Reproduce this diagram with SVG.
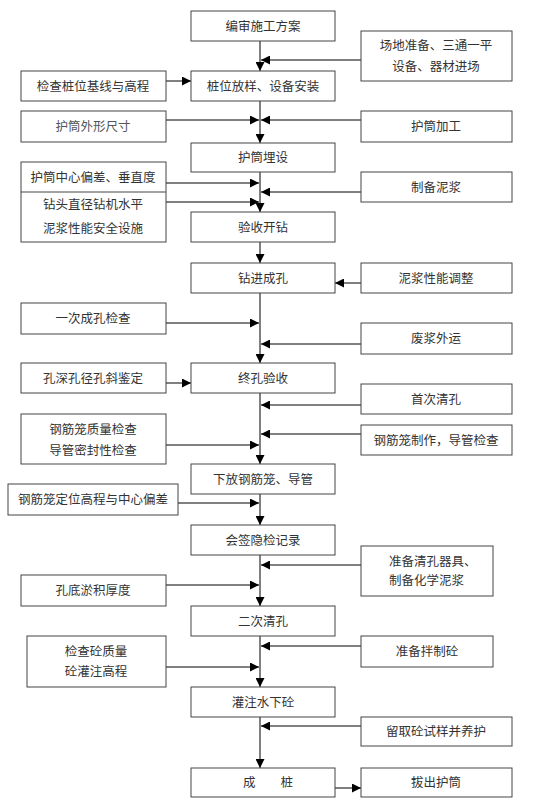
<svg xmlns="http://www.w3.org/2000/svg" width="555" height="809" viewBox="0 0 555 809">
<style>
.b{fill:#fff;stroke:#444;stroke-width:1}
.t{font-family:"Noto Sans CJK SC","Noto Sans",sans-serif;font-size:12.5px;fill:#333;text-anchor:middle}
.l{font-family:"Noto Sans CJK SC","Noto Sans",sans-serif;font-size:12.5px;fill:#333;text-anchor:start}
.c{fill:none;stroke:#000;stroke-width:1}
</style>
<defs>
<marker id="ah" markerWidth="9" markerHeight="9" refX="9" refY="4.5" orient="auto" markerUnits="userSpaceOnUse">
<path d="M0,0 L9,4.5 L0,9 z" fill="#000"/>
</marker>
</defs>
<rect width="555" height="809" fill="#fff"/>
<g id="connectors">
<path class="c" d="M260,41 V71" marker-end="url(#ah)"/>
<path class="c" d="M361,60 H261" marker-end="url(#ah)"/>
<path class="c" d="M166,81 H191" marker-end="url(#ah)"/>
<path class="c" d="M260,101 V143" marker-end="url(#ah)"/>
<path class="c" d="M166,120 H259" marker-end="url(#ah)"/>
<path class="c" d="M361,120 H261" marker-end="url(#ah)"/>
<path class="c" d="M260,172 V212" marker-end="url(#ah)"/>
<path class="c" d="M166,183 H259" marker-end="url(#ah)"/>
<path class="c" d="M361,192 H261" marker-end="url(#ah)"/>
<path class="c" d="M166,202 H259" marker-end="url(#ah)"/>
<path class="c" d="M260,242 V263" marker-end="url(#ah)"/>
<path class="c" d="M361,283 H335" marker-end="url(#ah)"/>
<path class="c" d="M260,293 V363" marker-end="url(#ah)"/>
<path class="c" d="M166,323 H259" marker-end="url(#ah)"/>
<path class="c" d="M361,344 H261" marker-end="url(#ah)"/>
<path class="c" d="M166,383 H191" marker-end="url(#ah)"/>
<path class="c" d="M260,393 V464" marker-end="url(#ah)"/>
<path class="c" d="M361,405 H261" marker-end="url(#ah)"/>
<path class="c" d="M361,434 H261" marker-end="url(#ah)"/>
<path class="c" d="M166,445 H259" marker-end="url(#ah)"/>
<path class="c" d="M260,494 V525" marker-end="url(#ah)"/>
<path class="c" d="M178,503 H259" marker-end="url(#ah)"/>
<path class="c" d="M260,555 V606" marker-end="url(#ah)"/>
<path class="c" d="M361,565 H261" marker-end="url(#ah)"/>
<path class="c" d="M166,585 H259" marker-end="url(#ah)"/>
<path class="c" d="M260,636 V687" marker-end="url(#ah)"/>
<path class="c" d="M361,646 H261" marker-end="url(#ah)"/>
<path class="c" d="M166,667 H259" marker-end="url(#ah)"/>
<path class="c" d="M260,717 V768" marker-end="url(#ah)"/>
<path class="c" d="M361,726 H261" marker-end="url(#ah)"/>
<path class="c" d="M335,788 H361" marker-end="url(#ah)"/>
</g>
<g id="n1"><rect class="b" x="191" y="11" width="144" height="30"/><text class="t" x="263" y="30.5">编审施工方案</text></g>
<g id="n2"><rect class="b" x="361" y="31" width="151" height="50"/><text class="t" x="436" y="49.5">场地准备、三通一平</text><text class="t" x="436" y="71">设备、器材进场</text></g>
<g id="n3"><rect class="b" x="21" y="71" width="145" height="30"/><text class="t" x="93" y="90.5">检查桩位基线与高程</text></g>
<g id="n4"><rect class="b" x="191" y="71" width="144" height="30"/><text class="t" x="263" y="90.5">桩位放样、设备安装</text></g>
<g id="n5"><rect class="b" x="21" y="111" width="145" height="31"/><text class="t" x="93" y="131" fill="#555" style="fill:#555">护筒外形尺寸</text></g>
<g id="n6"><rect class="b" x="361" y="111" width="151" height="31"/><text class="t" x="436" y="131">护筒加工</text></g>
<g id="n7"><rect class="b" x="191" y="143" width="144" height="29"/><text class="t" x="263" y="162">护筒埋设</text></g>
<g id="n8"><rect class="b" x="21" y="162" width="145" height="80"/><line x1="21" y1="192" x2="166" y2="192" stroke="#444" stroke-width="1"/><text class="t" x="93" y="182">护筒中心偏差、垂直度</text><text class="t" x="93" y="209">钻头直径钻机水平</text><text class="t" x="93" y="233">泥浆性能安全设施</text></g>
<g id="n9"><rect class="b" x="361" y="172" width="151" height="30"/><text class="t" x="436" y="191.5">制备泥浆</text></g>
<g id="n10"><rect class="b" x="191" y="212" width="144" height="30"/><text class="t" x="263" y="231.5">验收开钻</text></g>
<g id="n11"><rect class="b" x="191" y="263" width="144" height="30"/><text class="t" x="263" y="282.5">钻进成孔</text></g>
<g id="n12"><rect class="b" x="361" y="263" width="151" height="30"/><text class="t" x="436" y="282.5">泥浆性能调整</text></g>
<g id="n13"><rect class="b" x="21" y="303" width="145" height="31"/><text class="t" x="93" y="323">一次成孔检查</text></g>
<g id="n14"><rect class="b" x="361" y="323" width="151" height="31"/><text class="t" x="436" y="343">废浆外运</text></g>
<g id="n15"><rect class="b" x="21" y="363" width="145" height="30"/><text class="t" x="93" y="382.5">孔深孔径孔斜鉴定</text></g>
<g id="n16"><rect class="b" x="191" y="363" width="144" height="30"/><text class="t" x="263" y="382.5">终孔验收</text></g>
<g id="n17"><rect class="b" x="361" y="384" width="151" height="30"/><text class="t" x="436" y="403.5">首次清孔</text></g>
<g id="n18"><rect class="b" x="21" y="414" width="145" height="50"/><text class="t" x="93" y="434">钢筋笼质量检查</text><text class="t" x="93" y="455">导管密封性检查</text></g>
<g id="n19"><rect class="b" x="361" y="425" width="151" height="30"/><text class="t" x="436" y="444.5">钢筋笼制作，导管检查</text></g>
<g id="n20"><rect class="b" x="191" y="464" width="144" height="30"/><text class="t" x="263" y="483.5">下放钢筋笼、导管</text></g>
<g id="n21"><rect class="b" x="8" y="484" width="170" height="31"/><text class="t" x="93" y="504">钢筋笼定位高程与中心偏差</text></g>
<g id="n22"><rect class="b" x="191" y="525" width="144" height="30"/><text class="t" x="263" y="544.5">会签隐检记录</text></g>
<g id="n23"><rect class="b" x="361" y="546" width="132" height="50"/><text class="l" x="389" y="566">准备清孔器具、</text><text class="l" x="389" y="585">制备化学泥浆</text></g>
<g id="n24"><rect class="b" x="21" y="575" width="145" height="31"/><text class="t" x="93" y="595">孔底淤积厚度</text></g>
<g id="n25"><rect class="b" x="191" y="606" width="144" height="30"/><text class="t" x="263" y="625.5">二次清孔</text></g>
<g id="n26"><rect class="b" x="27" y="636" width="139" height="51"/><text class="t" x="96" y="656">检查砼质量</text><text class="t" x="96" y="675.5">砼灌注高程</text></g>
<g id="n27"><rect class="b" x="361" y="636" width="132" height="31"/><text class="t" x="427" y="656">准备拌制砼</text></g>
<g id="n28"><rect class="b" x="191" y="687" width="144" height="30"/><text class="t" x="263" y="706.5">灌注水下砼</text></g>
<g id="n29"><rect class="b" x="361" y="717" width="151" height="29"/><text class="t" x="436" y="736">留取砼试样并养护</text></g>
<g id="n30"><rect class="b" x="191" y="768" width="144" height="29"/><text class="t" x="268" y="787">成　　桩</text></g>
<g id="n31"><rect class="b" x="361" y="768" width="151" height="29"/><text class="t" x="436" y="787">拔出护筒</text></g>
</svg>
